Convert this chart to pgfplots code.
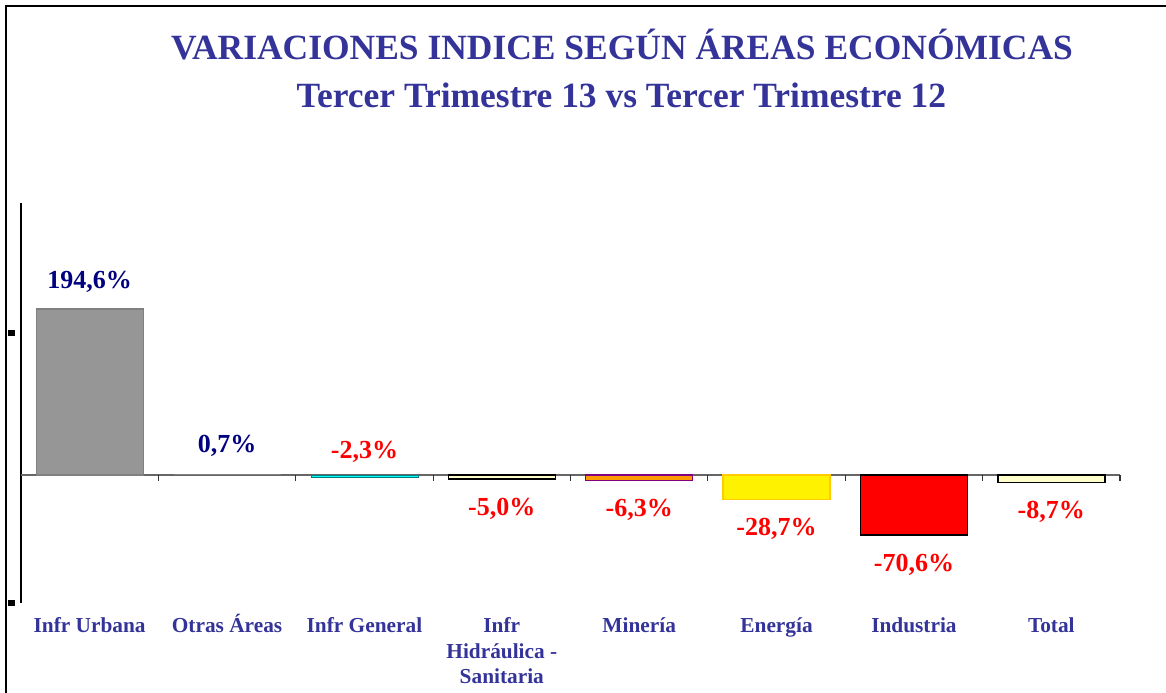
\documentclass[border=0pt]{standalone}
\usepackage{fontspec}
\setmainfont{Liberation Serif}
\usepackage{pgfplots}
\pgfplotsset{compat=1.18}

\definecolor{titleblue}{HTML}{333399}
\definecolor{navy}{HTML}{000080}
\definecolor{barred}{HTML}{FF0000}

% 1 px of the reference = 0.75pt
\pgfplotsset{
  poslab/.style={nodes near coords align=center,
    every node near coord/.append style={text=navy, font=\fontsize{19.5pt}{22pt}\selectfont\bfseries, anchor=center, yshift=#1}},
  poslab/.default=20pt,
  neglab/.style={nodes near coords align=center,
    every node near coord/.append style={text=barred, font=\fontsize{19.5pt}{22pt}\selectfont\bfseries, anchor=center, yshift=-22pt}},
  onebar/.style={ybar, bar width=80.25pt, bar shift=0pt, line width=1.2pt},
}

\begin{document}
\begin{tikzpicture}
\useasboundingbox (0,0) rectangle (874.5pt,-519pt);
% frame
\draw[line width=1.4pt] (4.5pt,-530pt) -- (4.5pt,-4.5pt) -- (880pt,-4.5pt);
% titles
\node[text=titleblue, font=\fontsize{26.6pt}{30pt}\selectfont\bfseries, anchor=base] at (466.5pt,-44.5pt) {VARIACIONES INDICE SEGÚN ÁREAS ECONÓMICAS};
\node[text=titleblue, font=\fontsize{26.6pt}{30pt}\selectfont\bfseries, anchor=base] at (466pt,-81pt) {Tercer Trimestre 13 vs Tercer Trimestre 12};

\begin{axis}[
  at={(15.75pt,-452.25pt)}, anchor=south west,
  scale only axis, width=824.25pt, height=300pt,
  xmin=-0.5, xmax=7.5, ymin=-150, ymax=318.75,
  axis x line=none, axis y line=left,
  y axis line style={-, line width=1pt, black},
  ytick={166.4,-150},
  yticklabels={\rule{5.25pt}{4.5pt},\rule{5.25pt}{4.5pt}},
  yticklabel style={inner sep=0pt, xshift=-4.5pt},
  major tick length=0pt,
  clip=false,
]
% zero line and category ticks
\draw[gray!80!black, line width=0.9pt] (axis cs:-0.5,0) -- (axis cs:7.5,0);
\pgfplotsinvokeforeach{0.5,1.5,2.5,3.5,4.5,5.5,6.5,7.5}{
  \draw[gray!40!black, line width=0.8pt] (axis cs:#1,0) -- ([yshift=-4.5pt]axis cs:#1,0);
}

\addplot[onebar, fill=black!41, draw=black!50, line width=0.9pt, poslab, nodes near coords={194,6\%}] coordinates {(0,194.6)};
\addplot[onebar, fill=black!50, draw=none, poslab=21.5pt, nodes near coords={0,7\%}] coordinates {(1,0.7)};
\addplot[onebar, fill={rgb,255:red,0;green,255;blue,255}, draw={rgb,255:red,0;green,128;blue,128}, line width=0.4pt, nodes near coords={-2,3\%},
  every node near coord/.append style={text=barred, font=\fontsize{19.5pt}{22pt}\selectfont\bfseries, anchor=center, yshift=19pt}] coordinates {(2,-2.3)};
\addplot[onebar, fill={rgb,255:red,255;green,255;blue,204}, draw=black, neglab, nodes near coords={-5,0\%}] coordinates {(3,-5.0)};
\addplot[onebar, fill={rgb,255:red,255;green,153;blue,0}, draw={rgb,255:red,128;green,0;blue,128}, neglab, nodes near coords={-6,3\%}] coordinates {(4,-6.3)};
\addplot[onebar, fill=yellow, draw={rgb,255:red,255;green,204;blue,0}, neglab, nodes near coords={-28,7\%}] coordinates {(5,-28.7)};
\addplot[onebar, fill=barred, draw=black, neglab, nodes near coords={-70,6\%}] coordinates {(6,-70.6)};
\addplot[onebar, fill={rgb,255:red,255;green,255;blue,204}, draw=black, neglab, nodes near coords={-8,7\%}] coordinates {(7,-8.7)};

% category labels
\tikzset{catlab/.style={text=titleblue, font=\fontsize{16pt}{19pt}\selectfont\bfseries, anchor=base, inner sep=0pt}}
\node[catlab] at ([yshift=-22pt]axis cs:0,-150) {Infr Urbana};
\node[catlab] at ([yshift=-22pt]axis cs:1,-150) {Otras Áreas};
\node[catlab] at ([yshift=-22pt]axis cs:2,-150) {Infr General};
\node[catlab] at ([yshift=-22pt]axis cs:3,-150) {Infr};
\node[catlab] at ([yshift=-41.5pt]axis cs:3,-150) {Hidráulica -};
\node[catlab] at ([yshift=-60.5pt]axis cs:3,-150) {Sanitaria};
\node[catlab] at ([yshift=-22pt]axis cs:4,-150) {Minería};
\node[catlab] at ([yshift=-22pt]axis cs:5,-150) {Energía};
\node[catlab] at ([yshift=-22pt]axis cs:6,-150) {Industria};
\node[catlab] at ([yshift=-22pt]axis cs:7,-150) {Total};
\end{axis}
\end{tikzpicture}
\end{document}
